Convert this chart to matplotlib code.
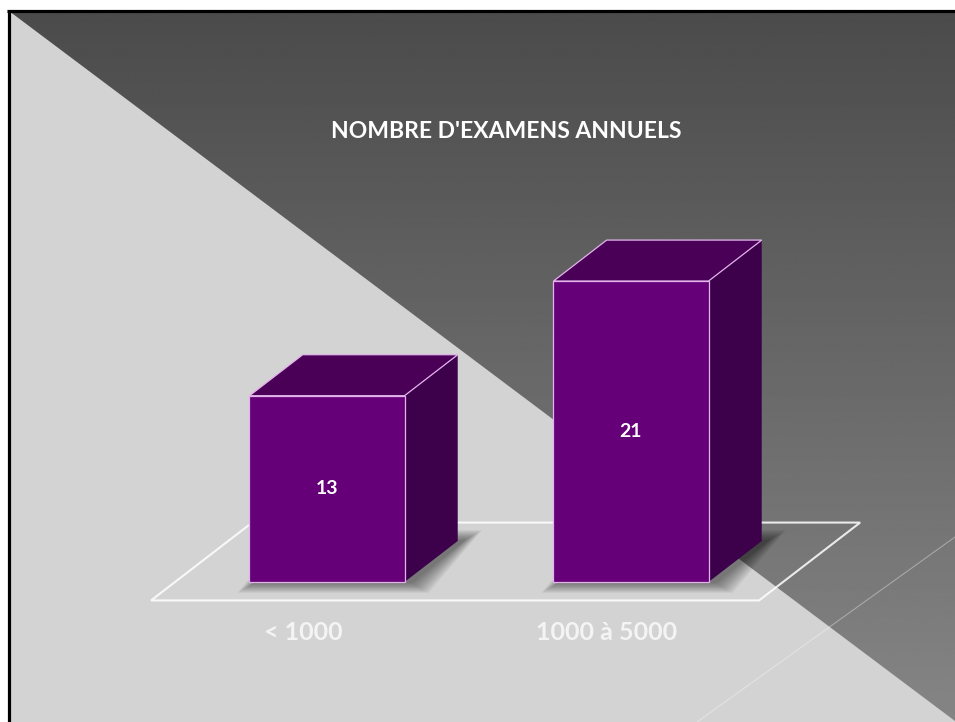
#!/usr/bin/env python3

import matplotlib.pyplot as plt
import numpy as np
from matplotlib.patches import Polygon, Rectangle

# Data
categories = ["< 1000", "1000 à 5000"]
values = [13, 21]
title = "NOMBRE D'EXAMENS ANNUELS"

# Figure size in pixels
W, H = 955, 722

# Bar styling (3D look)
FRONT = "#650078"
TOP = "#4b0058"
SIDE = "#3d004a"
EDGE = "#e2b4ea"
BAR_W = 0.51
DX, DY = 0.175, 2.86   # depth vector in data units

plt.rcParams['font.family'] = ['Lato', 'DejaVu Sans']

fig = plt.figure(figsize=(W / 100, H / 100), dpi=100)
fig.patch.set_facecolor('white')

# Slide background (pixel coordinates)
bg = fig.add_axes([0, 0, 1, 1])
bg.axis('off')
bg.add_patch(Rectangle((9, 11), W, H, facecolor='#d3d3d3', edgecolor='none', zorder=0))
grad = np.linspace(0x4b, 0x85, 256) / 255
img = np.repeat(grad[:, None], 2, axis=1)
im = bg.imshow(img, cmap='gray', vmin=0, vmax=1, extent=(9, W, H, 11),
               aspect='auto', zorder=1, interpolation='bilinear')
tri = Polygon([(9, 11), (W, 11), (W, 11 + 0.75 * (W - 9))], closed=True,
              facecolor='none', edgecolor='none')
bg.add_patch(tri)
im.set_clip_path(tri)
bg.plot([697, W], [H, 537], color='white', alpha=0.35, lw=0.8, zorder=2)
bg.plot([8.5, 8.5], [10, H], color='black', lw=2.3, zorder=3, solid_capstyle='butt')
bg.plot([7, W], [10.5, 10.5], color='black', lw=2.3, zorder=3, solid_capstyle='butt')
bg.set_xlim(0, W)
bg.set_ylim(H, 0)

# Chart axes: x = category index, y = value
ax = fig.add_axes([0, 0, 1, 1])
ax.patch.set_alpha(0)
ax.axis('off')
px_x, px_y = 304.0, 14.33
ax.set_xlim(-327 / px_x, (W - 327) / px_x)
ax.set_ylim(-(H - 582) / px_y, 582 / px_y)

# Floor
n = len(values)
f0, f1 = -0.45, 1.45
floor = [(-0.5 + f0 * DX, f0 * DY), (n - 0.5 + f0 * DX, f0 * DY),
         (n - 0.5 + f1 * DX, f1 * DY), (-0.5 + f1 * DX, f1 * DY)]
ax.add_patch(Polygon(floor, closed=True, facecolor='none', edgecolor='white',
                     alpha=0.85, lw=1.5, zorder=2))

for i, v in enumerate(values):
    x0, x1 = i - BAR_W / 2, i + BAR_W / 2

    # soft shadow around the base
    for e in range(2, 20, 2):
        ex, ey = e / px_x, e / px_y * 0.6
        sx = 6 / px_x
        shadow = [(x0 - ex + sx, -ey), (x1 + ex + sx, -ey),
                  (x1 + DX + ex + sx, DY + ey), (x0 + DX - ex + sx, DY + ey)]
        ax.add_patch(Polygon(shadow, closed=True, facecolor='black',
                             edgecolor='none', alpha=0.06, zorder=3))

    side = [(x1, 0), (x1 + DX, DY), (x1 + DX, v + DY), (x1, v)]
    top = [(x0, v), (x1, v), (x1 + DX, v + DY), (x0 + DX, v + DY)]
    front = [(x0, 0), (x1, 0), (x1, v), (x0, v)]
    ax.add_patch(Polygon(side, closed=True, facecolor=SIDE, edgecolor='none', zorder=4))
    ax.add_patch(Polygon(top, closed=True, facecolor=TOP, edgecolor=EDGE, lw=0.9, zorder=4))
    ax.add_patch(Polygon(front, closed=True, facecolor=FRONT, edgecolor=EDGE, lw=0.9, zorder=5))

    ax.text(i, v / 2, str(v), color='white', fontsize=14, fontweight='bold',
            ha='center', va='center', zorder=6)
    ax.text(i + f0 * DX, -3.5, categories[i], color='#f4f4f4', fontsize=18,
            fontweight='bold', ha='center', va='center', zorder=6)

fig.text(506 / W, 1 - 131 / H, title, color='white', fontsize=16.5,
         fontweight='bold', ha='center', va='center')

plt.savefig("out.png", dpi=100)
plt.close()
